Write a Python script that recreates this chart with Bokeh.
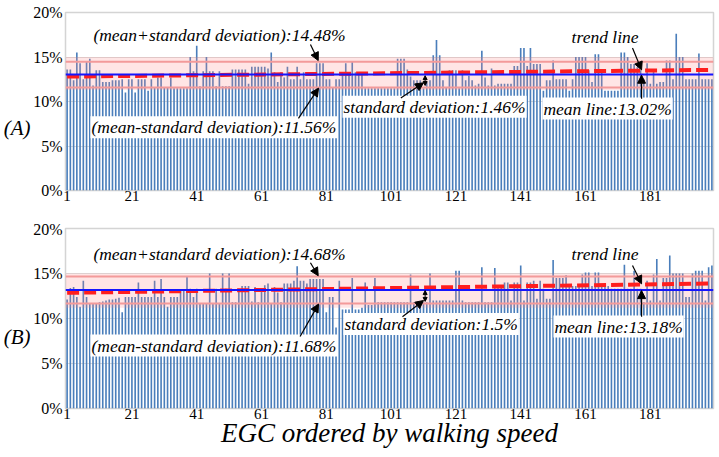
from bokeh.plotting import figure
from bokeh.layouts import column
from bokeh.models import Range1d, FixedTicker, Label, Arrow, NormalHead, BoxAnnotation, Span, LinearAxis
from bokeh.embed import file_html
from bokeh.resources import INLINE

# ---------------- data ----------------
egc_index = list(range(1, 201))

values_a = [
    13.6, 13.6, 12.4, 15.5, 14.3, 12.5, 14.5, 14.8, 11.8, 13.5, 13.5, 12.2, 12.2, 12.2, 12.4, 12.4, 12.4, 12.5, 11.0, 12.5,
    12.5, 11.0, 12.5, 12.5, 12.5, 11.2, 12.5, 11.6, 12.7, 12.7, 11.6, 11.6, 12.7, 11.5, 11.5, 11.5, 11.5, 11.5, 15.0, 13.4,
    16.4, 11.7, 13.4, 15.0, 13.4, 13.4, 11.7, 13.4, 11.7, 11.7, 11.7, 13.6, 13.6, 13.6, 13.6, 13.6, 12.0, 13.9, 13.9, 13.9,
    13.9, 13.9, 13.7, 15.5, 13.3, 12.2, 13.3, 12.7, 13.9, 12.5, 12.5, 13.9, 12.5, 13.3, 12.5, 12.5, 12.5, 14.3, 14.3, 14.3,
    12.5, 12.5, 11.6, 12.5, 12.5, 13.3, 14.3, 13.3, 14.5, 13.3, 13.3, 13.3, 11.5, 11.5, 11.5, 11.5, 11.5, 11.5, 11.5, 11.5,
    11.5, 11.5, 14.8, 14.8, 14.8, 13.6, 12.8, 12.4, 12.4, 12.4, 11.5, 12.2, 12.4, 15.2, 16.9, 15.2, 12.4, 11.6, 13.5, 13.5,
    13.5, 11.5, 13.5, 12.4, 12.9, 12.4, 11.8, 12.0, 15.7, 12.7, 11.8, 13.7, 11.8, 12.0, 12.0, 12.0, 12.0, 12.0, 14.0, 14.0,
    16.0, 16.0, 14.0, 16.0, 14.2, 14.2, 14.2, 11.2, 12.4, 12.4, 14.6, 12.5, 12.5, 12.5, 12.5, 11.2, 12.5, 15.0, 15.0, 15.0,
    15.0, 13.5, 12.2, 15.3, 15.3, 13.5, 11.2, 11.2, 11.2, 11.2, 11.2, 15.5, 15.5, 15.0, 14.2, 14.2, 13.9, 13.5, 12.5, 14.3,
    12.0, 13.5, 12.0, 12.2, 12.2, 14.6, 14.6, 12.5, 17.6, 15.0, 15.0, 12.5, 12.5, 12.5, 12.5, 15.4, 12.5, 12.5, 12.5, 12.5,
]

values_b = [
    12.1, 13.4, 13.5, 12.4, 11.3, 14.2, 12.4, 11.6, 11.7, 11.7, 11.8, 11.9, 12.0, 12.1, 12.1, 12.2, 12.3, 10.7, 12.4, 12.4,
    12.4, 12.4, 14.0, 12.4, 12.4, 12.4, 12.4, 14.2, 12.4, 14.4, 12.4, 11.3, 12.4, 12.4, 12.4, 13.1, 13.1, 14.7, 13.3, 12.4,
    13.3, 11.6, 11.6, 11.6, 15.0, 11.6, 13.3, 11.6, 15.0, 13.3, 15.0, 11.8, 11.8, 13.3, 13.6, 13.6, 13.6, 11.9, 13.5, 11.8,
    13.1, 13.7, 13.9, 11.6, 13.5, 12.9, 11.8, 13.9, 13.9, 13.9, 14.2, 15.8, 14.2, 14.2, 13.9, 14.4, 14.4, 14.4, 14.4, 14.4,
    10.7, 12.4, 12.4, 9.0, 14.2, 11.0, 11.0, 11.0, 14.5, 11.0, 11.0, 11.2, 14.0, 11.5, 11.5, 14.5, 11.8, 11.8, 11.8, 11.8,
    11.8, 11.8, 11.8, 11.8, 11.8, 11.8, 14.9, 11.8, 11.8, 11.8, 11.8, 11.8, 15.0, 12.0, 12.0, 12.0, 12.0, 12.0, 12.0, 12.0,
    15.3, 15.3, 12.0, 11.8, 11.8, 11.8, 11.8, 11.8, 15.7, 11.8, 11.8, 11.8, 15.6, 13.5, 13.7, 14.0, 14.0, 12.0, 14.0, 14.0,
    15.9, 12.0, 14.0, 14.0, 14.2, 12.2, 14.2, 13.3, 12.2, 12.2, 16.5, 14.5, 14.5, 14.5, 14.8, 13.6, 13.6, 13.6, 13.6, 14.9,
    15.1, 15.1, 13.6, 15.1, 15.1, 13.6, 13.6, 13.6, 13.3, 13.3, 13.3, 13.3, 16.4, 13.3, 13.3, 15.3, 13.3, 13.3, 11.8, 14.2,
    12.0, 14.9, 16.6, 12.0, 14.5, 14.5, 17.0, 15.0, 15.0, 15.0, 15.0, 12.4, 12.4, 15.0, 15.3, 15.3, 15.3, 12.0, 15.7, 15.9,
]

mean_a, sd_a = 13.02, 1.46
upper_a, lower_a = 14.48, 11.56
mean_b, sd_b = 13.18, 1.5
upper_b, lower_b = 14.68, 11.68

trend_x = [1, 200]
trend_a = [12.8, 13.55]
trend_b = [12.85, 13.9]

band_a = [11.3, 15.0]
band_b = [11.2, 15.0]

x_ticks = [1, 21, 41, 61, 81, 101, 121, 141, 161, 181]
y_ticks = [0, 5, 10, 15, 20]
y_tick_labels = ["0%", "5%", "10%", "15%", "20%"]

texts_a = ["(mean+standard deviation):14.48%", "(mean-standard deviation):11.56%",
           "standard deviation:1.46%", "trend line", "mean line:13.02%"]
texts_b = ["(mean+standard deviation):14.68%", "(mean-standard deviation):11.68%",
           "standard deviation:1.5%", "trend line", "mean line:13.18%"]
panel_names = ["(A)", "(B)"]
x_title = "EGC ordered by walking speed"

SERIF = "Liberation Serif"
BAR = "#4a7ebb"


def make_panel(vals, mean, upper, lower, band, trend_y, texts, panel_name, name_y,
               height, top, bottom, pos):
    p = figure(width=717, height=height, output_backend="svg", toolbar_location=None,
               x_range=Range1d(0.5, 200.5), y_range=Range1d(0, 20),
               min_border_left=65, min_border_right=4,
               min_border_top=top, min_border_bottom=bottom)
    p.background_fill_color = "white"
    p.border_fill_color = "white"
    p.outline_line_color = "#d4d4d4"
    p.outline_line_width = 1.5

    p.vbar(x=egc_index, top=vals, width=0.5, fill_color=BAR, line_color=None)
    p.line(trend_x, trend_y, line_color="#ff0000", line_width=4, line_dash="12 5")

    p.xgrid.grid_line_color = None
    p.ygrid.grid_line_color = "#d9d9d9"
    p.ygrid.ticker = FixedTicker(ticks=y_ticks)

    p.yaxis.ticker = FixedTicker(ticks=y_ticks)
    p.yaxis.major_label_overrides = {t: l for t, l in zip(y_ticks, y_tick_labels)}
    p.xaxis.ticker = FixedTicker(ticks=x_ticks)

    # panel name "(A)" / "(B)" as an extra left axis with a single tick
    name_axis = LinearAxis(ticker=FixedTicker(ticks=[name_y]),
                           major_label_overrides={name_y: panel_name})
    p.add_layout(name_axis, "left")

    for ax in (p.xaxis[0], p.yaxis[0], name_axis):
        ax.axis_line_color = None
        ax.major_tick_line_color = None
        ax.minor_tick_line_color = None
        ax.major_tick_out = 0
        ax.major_tick_in = 0
        ax.minor_tick_out = 0
        ax.minor_tick_in = 0
        ax.axis_label_standoff = 0
        ax.major_label_text_font = SERIF
        ax.major_label_text_color = "black"
        ax.major_label_standoff = 3
    p.yaxis[0].major_label_text_font_size = "16px"
    p.yaxis[0].major_label_standoff = 3
    p.xaxis[0].major_label_text_font_size = "15px"
    p.xaxis[0].major_label_standoff = 0
    name_axis.major_label_text_font_size = "21px"
    name_axis.major_label_text_font_style = "italic"
    name_axis.major_label_standoff = 0

    p.add_layout(BoxAnnotation(bottom=band[0], top=band[1], fill_color="#ff8a8a",
                               fill_alpha=0.22, line_color=None))
    p.add_layout(Span(location=upper, dimension="width", line_color="#f39a9a", line_width=2))
    p.add_layout(Span(location=lower, dimension="width", line_color="#f39a9a", line_width=2))
    p.add_layout(Span(location=mean, dimension="width", line_color="#1515ff", line_width=2))

    def lab(x, y, t):
        p.add_layout(Label(x=x, y=y, text=t, text_font=SERIF, text_font_style="italic",
                           text_font_size="17.5px", text_color="black", text_baseline="middle",
                           background_fill_color="white", padding=1))

    def arr(x0, y0, x1, y1, size=8):
        p.add_layout(Arrow(end=NormalHead(size=size, fill_color="black", line_color="black"),
                           x_start=x0, y_start=y0, x_end=x1, y_end=y1,
                           line_color="black", line_width=1.2))

    for (x, y), t in zip(pos["labels"], texts):
        lab(x, y, t)
    for a in pos["arrows"]:
        arr(*a)
    sx, sy0, sy1 = pos["sd_mark"]
    p.add_layout(Arrow(start=NormalHead(size=4, fill_color="black"),
                       end=NormalHead(size=4, fill_color="black"),
                       x_start=sx, y_start=sy0, x_end=sx, y_end=sy1,
                       line_color="black", line_width=1))
    return p


pos_a = {
    "labels": [(8.8, 17.5), (8.2, 7.1), (86.0, 9.4), (156.4, 17.3), (147.7, 9.2)],
    "arrows": [(76.1, 16.4, 78.5, 14.6), (72.4, 8.1, 78.6, 11.5),
               (104.0, 10.4, 111.0, 12.1), (175.5, 16.0, 178.3, 13.55),
               (178.3, 10.3, 178.3, 12.95)],
    "sd_mark": (111.5, 11.8, 12.9),
}
pos_b = {
    "labels": [(8.8, 17.2), (8.2, 7.0), (86.3, 9.4), (156.4, 17.2), (151.1, 9.1)],
    "arrows": [(76.1, 16.2, 78.5, 14.75), (72.9, 8.0, 78.6, 11.6),
               (104.5, 10.2, 111.0, 12.0), (175.5, 15.9, 178.3, 13.85),
               (178.3, 10.2, 178.3, 13.1)],
    "sd_mark": (111.5, 11.9, 13.1),
}

pa = make_panel(values_a, mean_a, upper_a, lower_a, band_a, trend_a, texts_a, panel_names[0], 7,
                220, 12, 30, pos_a)
pb = make_panel(values_b, mean_b, upper_b, lower_b, band_b, trend_b, texts_b, panel_names[1], 8,
                237, 8, 49, pos_b)

xa = pb.xaxis[0]
xa.axis_label = x_title
xa.axis_label_text_font = SERIF
xa.axis_label_text_font_style = "italic"
xa.axis_label_text_font_size = "27px"
xa.axis_label_text_color = "black"
xa.axis_label_standoff = -4

layout = column(pa, pb, spacing=0)
open("out.html", "w").write(file_html(layout, INLINE))
